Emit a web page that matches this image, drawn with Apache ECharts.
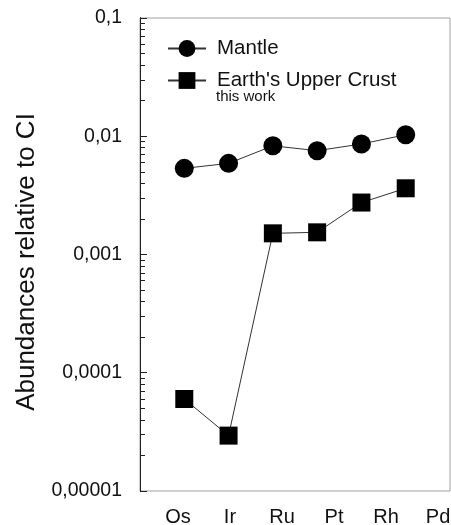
<!DOCTYPE html>
<html>
<head>
<meta charset="utf-8">
<script src="https://cdn.jsdelivr.net/npm/echarts@6/dist/echarts.min.js"></script>
<style>
html,body{margin:0;padding:0;background:#fff;}
#chart{width:451px;height:525px;}
</style>
</head>
<body>
<div id="chart"></div>
<script>
const categories = ['Os', 'Ir', 'Ru', 'Pt', 'Rh', 'Pd'];
const mantle = [0.00535, 0.0059, 0.0083, 0.00755, 0.0086, 0.0103];
const crust = [0.00006, 0.0000294, 0.00151, 0.00154, 0.00275, 0.00363];
const yTickLabels = ['0,00001', '0,0001', '0,001', '0,01', '0,1'];
const yMajorTicks = [0.00001, 0.0001, 0.001, 0.01, 0.1];
const yMinorTicks = [
  0.00002, 0.00003, 0.00004, 0.00005, 0.00006, 0.00007, 0.00008, 0.00009,
  0.0002, 0.0003, 0.0004, 0.0005, 0.0006, 0.0007, 0.0008, 0.0009,
  0.002, 0.003, 0.004, 0.005, 0.006, 0.007, 0.008, 0.009,
  0.02, 0.03, 0.04, 0.05, 0.06, 0.07, 0.08, 0.09
];
const seriesNames = ['Mantle', "Earth's Upper Crust"];
const subNote = 'this work';

const chart = echarts.init(document.getElementById('chart'), null, {renderer: 'canvas'});
const font = 'Liberation Sans, Arial, sans-serif';

// x position 1..6 (0 is the left frame of the plot)
const toPairs = arr => arr.map((v, i) => [i + 1, v]);

function tickAxis(values, len) {
  return {
    type: 'log', logBase: 10, min: 0.00001, max: 0.1,
    position: 'right',
    z: 10,
    axisLine: {show: true, onZero: true, onZeroAxisIndex: 0, lineStyle: {color: '#222', width: 1}},
    axisLabel: {show: false},
    splitLine: {show: false},
    axisTick: {
      show: true, inside: false, length: len,
      customValues: values,
      lineStyle: {color: '#222', width: 1}
    }
  };
}

chart.setOption({
  backgroundColor: '#ffffff',
  animation: false,
  textStyle: {fontFamily: font},
  title: {
    text: subNote,
    left: 216,
    top: 89,
    padding: 0,
    textStyle: {fontSize: 15, fontWeight: 'normal', color: '#111', fontFamily: font}
  },
  legend: {
    orient: 'vertical',
    left: 167,
    top: 38,
    itemWidth: 38,
    itemHeight: 21,
    itemGap: 11,
    padding: 0,
    data: seriesNames,
    textStyle: {fontSize: 20.5, color: '#111', fontFamily: font, padding: [0, 0, 0, 6]}
  },
  grid: {
    left: 140, right: 1, top: 18, bottom: 34,
    containLabel: false,
    outerBoundsMode: 'none',
    show: true,
    borderColor: '#a0a0a0',
    borderWidth: 1,
    backgroundColor: 'transparent'
  },
  xAxis: [
    {
      type: 'value', min: 0, max: 7, show: false
    },
    {
      type: 'value', min: -0.73, max: 5.23, position: 'bottom',
      axisLine: {show: false, onZero: false},
      axisTick: {show: false},
      splitLine: {show: false},
      axisLabel: {
        customValues: [0, 1, 2, 3, 4, 5],
        formatter: v => categories[Math.round(v)],
        fontSize: 20, color: '#111', fontFamily: font, margin: 16
      }
    }
  ],
  yAxis: [
    {
      type: 'log', logBase: 10, min: 0.00001, max: 0.1,
      position: 'left',
      name: 'Abundances relative to CI',
      nameLocation: 'middle',
      nameRotate: 90,
      nameGap: 100,
      nameTextStyle: {fontSize: 26, color: '#111', fontFamily: font, padding: [0, 15, 0, 0]},
      axisLine: {show: true, onZero: false, lineStyle: {color: '#222', width: 1}},
      axisTick: {show: false},
      splitLine: {show: false},
      minorTick: {show: false},
      axisLabel: {
        formatter: v => yTickLabels[Math.round(Math.log10(v)) + 5],
        fontSize: 19.5, color: '#111', fontFamily: font, margin: 18
      }
    },
    tickAxis(yMajorTicks, 7),
    tickAxis(yMinorTicks, 5)
  ],
  series: [
    {
      name: seriesNames[0], type: 'line', xAxisIndex: 0, yAxisIndex: 0,
      data: toPairs(mantle),
      symbol: 'circle', symbolSize: 19,
      itemStyle: {color: '#000'},
      lineStyle: {color: '#333', width: 1}
    },
    {
      name: seriesNames[1], type: 'line', xAxisIndex: 0, yAxisIndex: 0,
      data: toPairs(crust),
      symbol: 'rect', symbolSize: 18,
      itemStyle: {color: '#000'},
      lineStyle: {color: '#333', width: 1}
    }
  ]
});
</script>
</body>
</html>
